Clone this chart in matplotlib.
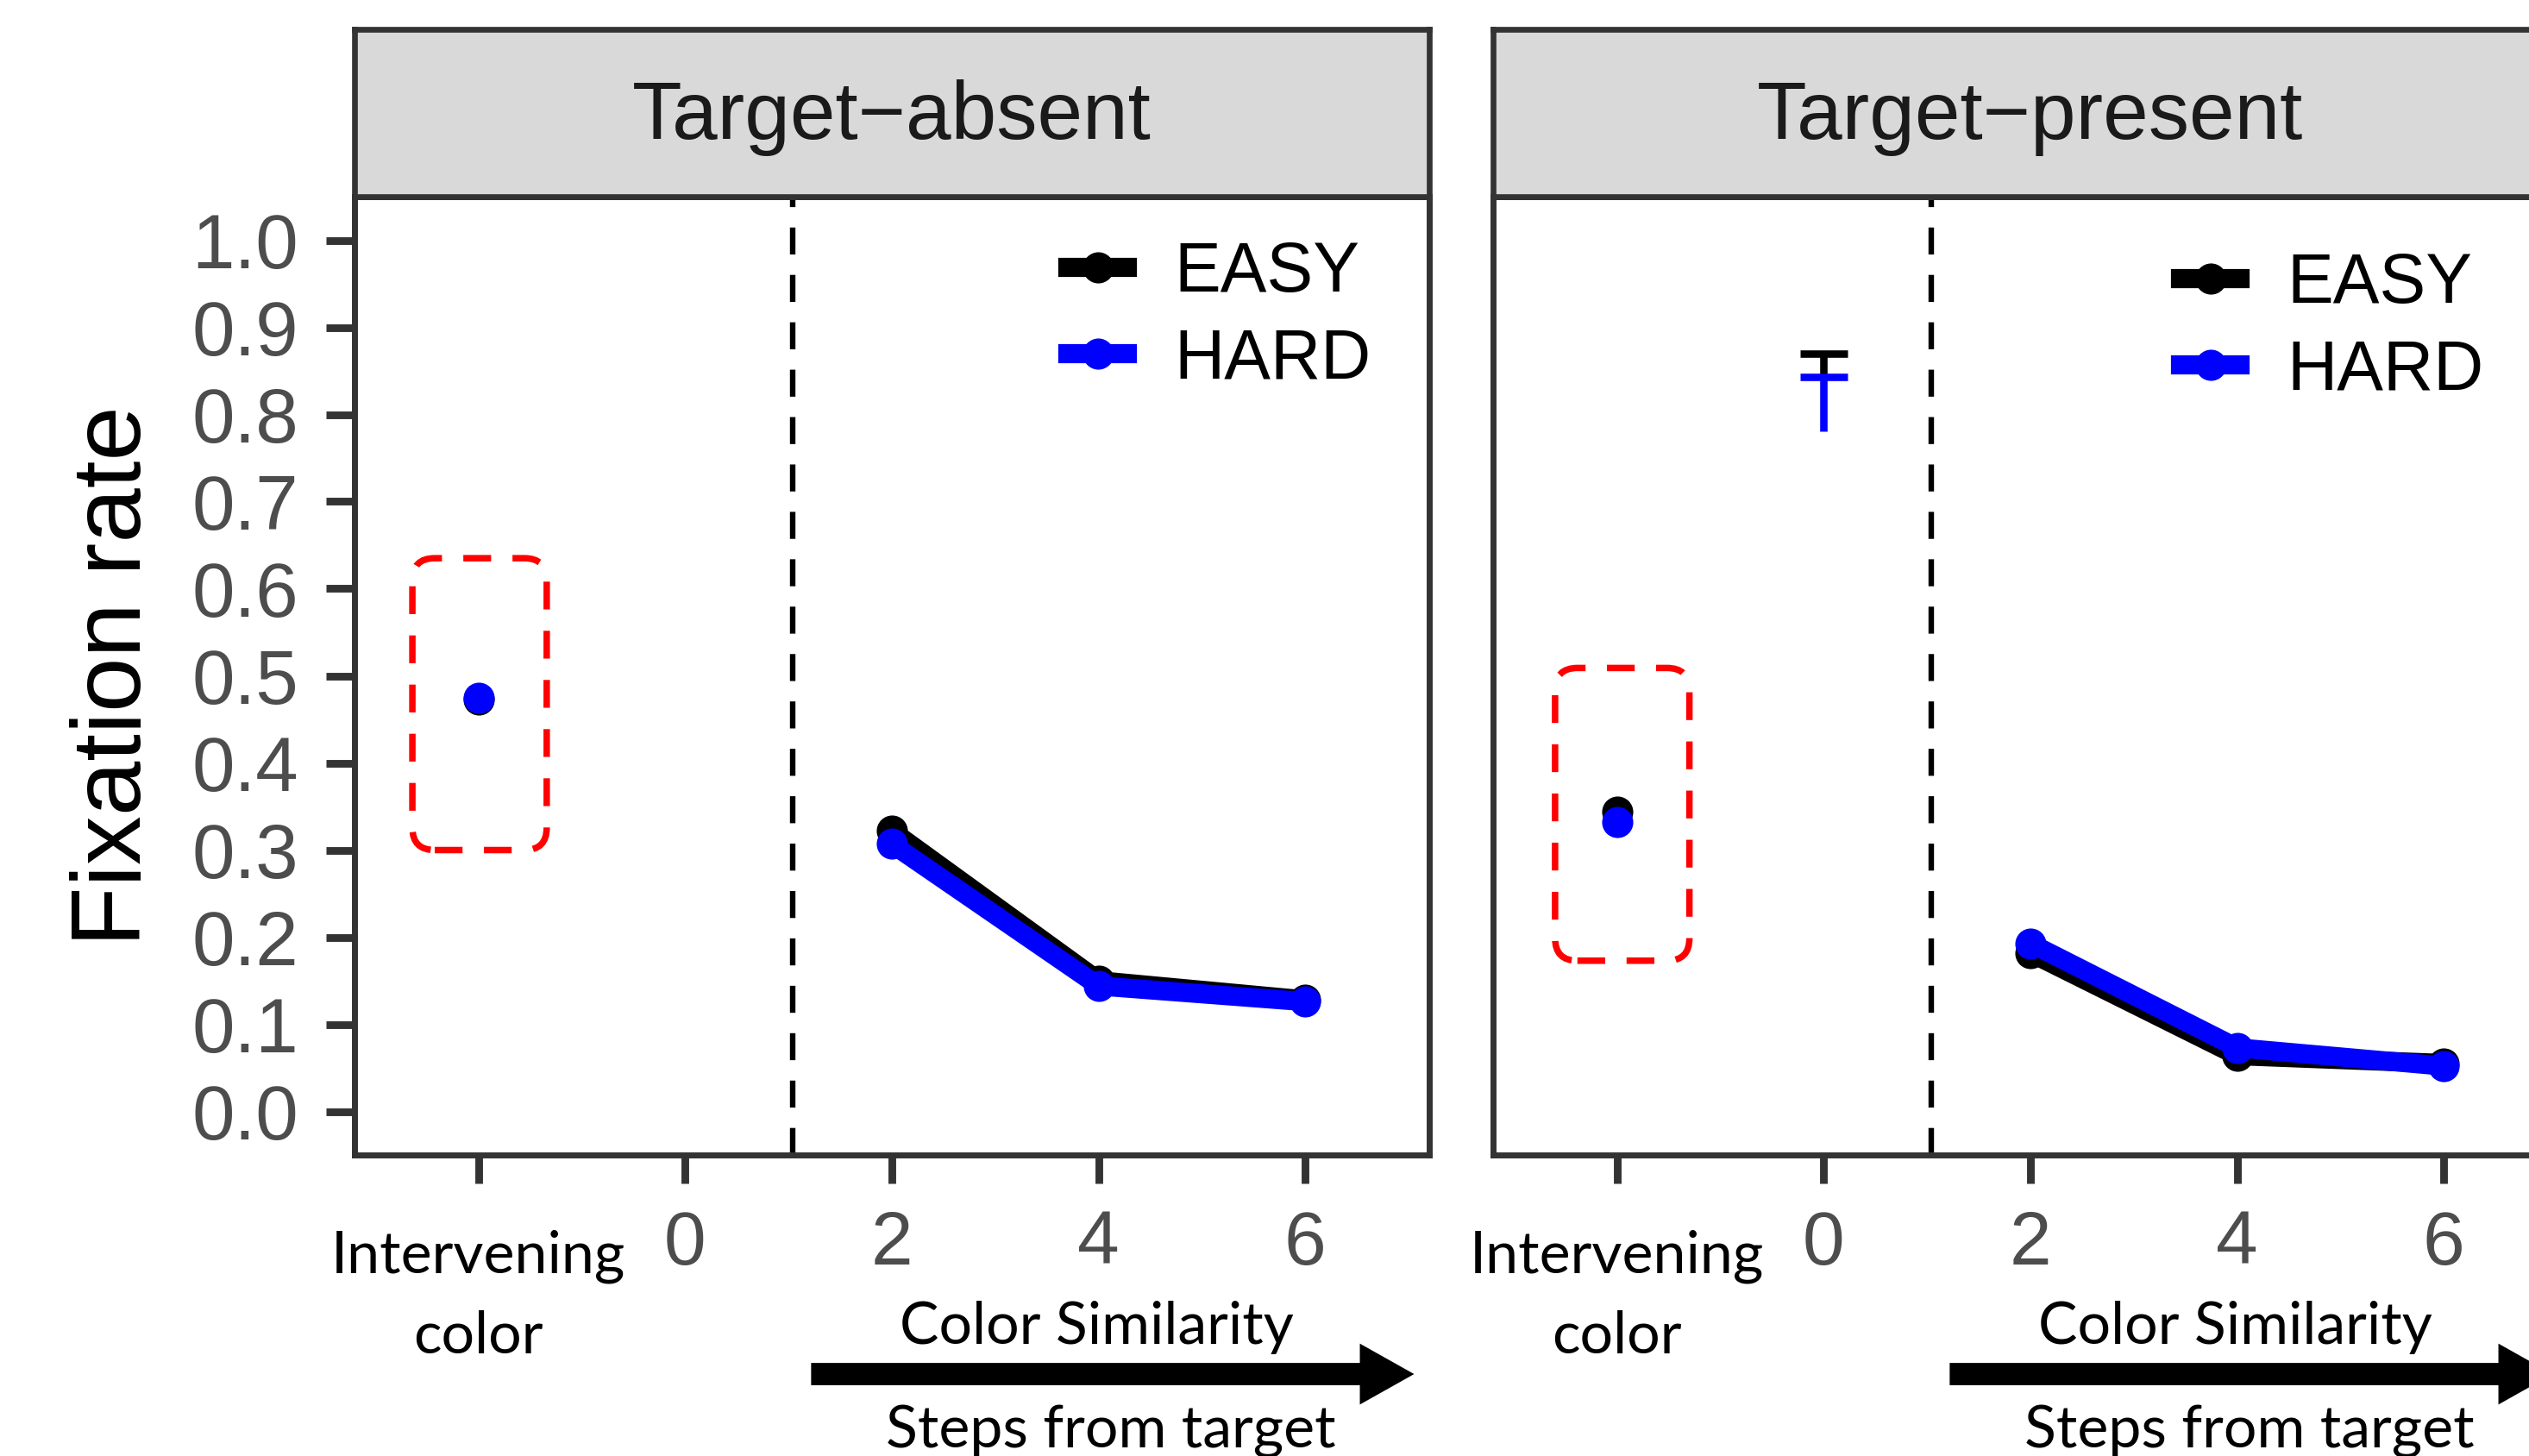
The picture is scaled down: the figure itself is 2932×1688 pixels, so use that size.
import numpy as np
import matplotlib
matplotlib.use("Agg")
import matplotlib.pyplot as plt
from matplotlib.lines import Line2D
from matplotlib.patches import FancyBboxPatch, FancyArrow

plt.rcParams['font.family'] = ['Liberation Sans', 'DejaVu Sans']

## Data

positions = [1, 2, 3, 4, 5]
tick_labels = ["", "0", "2", "4", "6"]
group_label = "Intervening\ncolor"
panels = ["Target\u2212absent", "Target\u2212present"]

# fixation rate per position (nan = no value)
absent_easy = [0.473, np.nan, 0.322, 0.150, 0.128]
absent_hard = [0.475, np.nan, 0.307, 0.144, 0.126]
present_easy = [0.344, np.nan, 0.182, 0.064, 0.055]
present_hard = [0.332, np.nan, 0.193, 0.073, 0.052]

# error bars at step 0 (target-present only): (low, high)
zero_easy_err = [0.843, 0.870]
zero_hard_err = [0.781, 0.843]

# highlighted region around the intervening color (x0, x1, y0, y1)
box_absent = [0.68, 1.33, 0.300, 0.635]
box_present = [0.70, 1.35, 0.173, 0.509]

easy_col = "black"
hard_col = "#0000FF"

## Figure

W, H = 2932, 1688
fig = plt.figure(figsize=(W / 200, H / 200), dpi=200)

def fx(px):
    return px / W

def fy(px):
    return 1 - px / H

ax_left = [411, 1731]
ax_w = 1246
top, bottom, strip_top = 228, 1339, 34

data = [(absent_easy, absent_hard, box_absent),
        (present_easy, present_hard, box_present)]

legend_anchor = [(0.664, 0.954), (0.640, 0.942)]

LW = 8
MS = 12

for i, (easy, hard, box) in enumerate(data):
    ax = fig.add_axes([fx(ax_left[i]), fy(bottom), ax_w / W, (bottom - top) / H])
    strip = fig.add_axes([fx(ax_left[i]), fy(top), ax_w / W, (top - strip_top) / H])

    # strip
    strip.set_facecolor("#D9D9D9")
    strip.set_xticks([])
    strip.set_yticks([])
    for s in strip.spines.values():
        s.set_color("#333333")
        s.set_linewidth(2.4)
    strip.text(0.5, 0.47, panels[i], ha="center", va="center",
               fontsize=34, color="#1A1A1A", transform=strip.transAxes)

    ax.set_xlim(0.4, 5.6)
    ax.set_ylim(-0.05, 1.05)

    x = np.array(positions)
    e = np.array(easy)
    h = np.array(hard)

    # connected steps 2..6
    ax.plot(x[2:], e[2:], color=easy_col, lw=LW, marker="o", ms=MS, zorder=3)
    ax.plot(x[2:], h[2:], color=hard_col, lw=LW, marker="o", ms=MS, zorder=4)
    # intervening color points
    ax.plot(x[0], e[0], color=easy_col, marker="o", ms=MS, zorder=3)
    ax.plot(x[0], h[0], color=hard_col, marker="o", ms=MS, zorder=4)

    if i == 1:
        for err, col, z in [(zero_easy_err, easy_col, 3), (zero_hard_err, hard_col, 4)]:
            ax.vlines(x[1], err[0], err[1], color=col, lw=3.1, zorder=z)
            ax.hlines(err[1], x[1] - 0.115, x[1] + 0.115, color=col, lw=3.1, zorder=z)

    ax.axvline(2.52, color="black", lw=2.3, linestyle=(0, (4.9, 3.7)), zorder=2)

    rb = FancyBboxPatch((box[0], box[2]), box[1] - box[0], box[3] - box[2],
                        boxstyle="round,pad=0,rounding_size=0.108",
                        mutation_aspect=0.238, fill=False, edgecolor="red",
                        lw=2.7, linestyle=(0, (4.3, 3.3)), zorder=2)
    ax.add_patch(rb)

    # axes styling
    for s in ax.spines.values():
        s.set_color("#333333")
        s.set_linewidth(2.5)
    ax.set_xticks(positions)
    ax.set_xticklabels(tick_labels, fontsize=31.5, color="#4D4D4D")
    ax.tick_params(axis="x", length=11.9, width=3.2, color="#333333", pad=11)
    if i == 0:
        ax.set_yticks(np.arange(0, 1.01, 0.1))
        ax.set_yticklabels(["%.1f" % v for v in np.arange(0, 1.01, 0.1)],
                           fontsize=32, color="#4D4D4D")
        ax.tick_params(axis="y", length=11.9, width=3.2, color="#333333", pad=11.5)
        ax.set_ylabel("Fixation rate", fontsize=41, color="black")
        ax.yaxis.set_label_coords(-0.18, 0.5)
    else:
        ax.set_yticks([])

    # annotations under the axis
    ax.text(1, -0.136, group_label, ha="center", va="top", fontsize=24.5,
            family="Lato", linespacing=1.62, clip_on=False)
    ax.text(3.99, -0.267, "Color Similarity", ha="center", va="baseline",
            fontsize=24.5, family="Lato", clip_on=False)
    ax.text(4.06, -0.386, "Steps from target", ha="center", va="baseline",
            fontsize=24.5, family="Lato", clip_on=False)
    arr = FancyArrow(2.615, -0.3015, 5.515 - 2.615, 0, width=0.0228,
                     head_width=0.0653, head_length=0.245,
                     length_includes_head=True, color="black", clip_on=False)
    ax.add_patch(arr)

    handles = [Line2D([], [], color=easy_col, lw=LW, marker="o", ms=MS),
               Line2D([], [], color=hard_col, lw=LW, marker="o", ms=MS)]
    ax.legend(handles, ["EASY", "HARD"], loc="upper left",
              bbox_to_anchor=legend_anchor[i], frameon=False, fontsize=29,
              borderpad=0, borderaxespad=0, handlelength=0.85,
              handletextpad=0.68, labelspacing=0.3, numpoints=1)

plt.savefig("out.png", dpi=200)
